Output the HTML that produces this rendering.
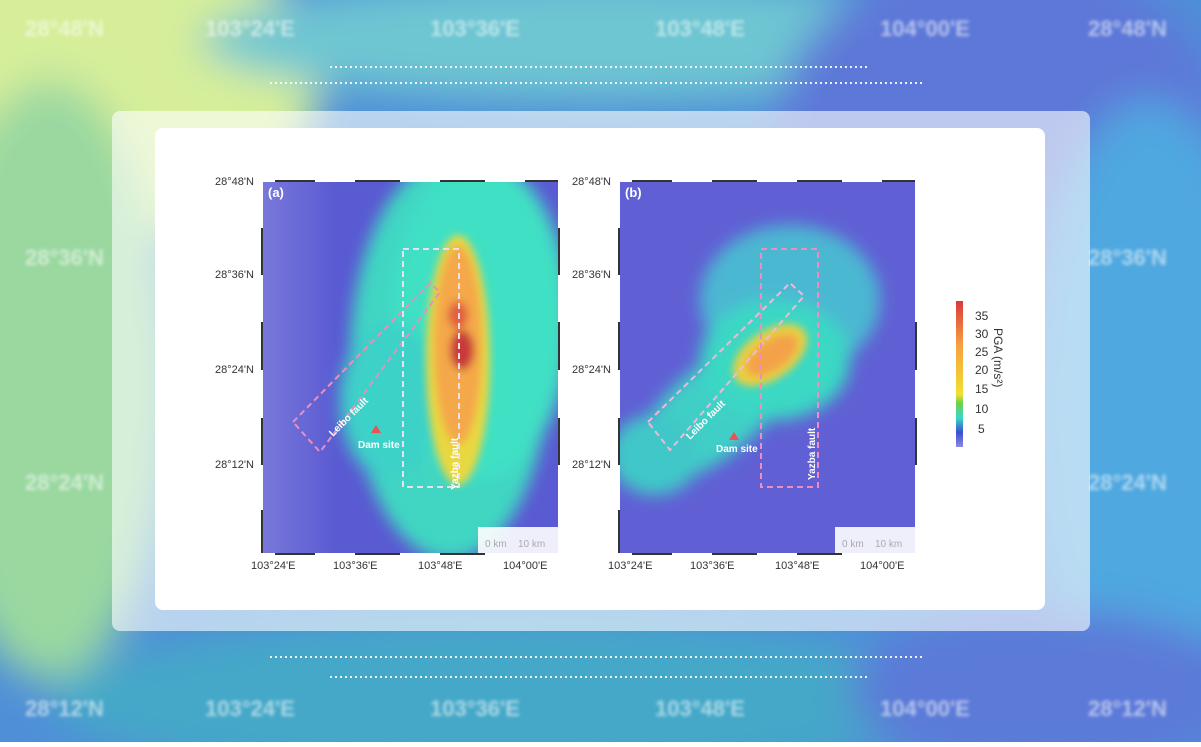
<!DOCTYPE html>
<html><head><meta charset="utf-8"><style>
body{margin:0;width:1201px;height:742px;overflow:hidden;font-family:"Liberation Sans",sans-serif}
</style></head><body>
<svg width="1201" height="742" viewBox="0 0 1201 742" xmlns="http://www.w3.org/2000/svg" font-family="Liberation Sans, sans-serif">
<defs>
<filter id="b20"><feGaussianBlur stdDeviation="20"/></filter>
<filter id="b8"><feGaussianBlur stdDeviation="8"/></filter>
<filter id="b4"><feGaussianBlur stdDeviation="4"/></filter>
<filter id="b2"><feGaussianBlur stdDeviation="1.5"/></filter>
<linearGradient id="cb" x1="0" y1="1" x2="0" y2="0">
<stop offset="0" stop-color="#8a8ae0"/><stop offset="0.1" stop-color="#3a4fd0"/><stop offset="0.2" stop-color="#3ad8c8"/><stop offset="0.3" stop-color="#6bd04a"/><stop offset="0.36" stop-color="#f2e030"/><stop offset="0.7" stop-color="#f5a040"/><stop offset="1" stop-color="#d83a3a"/></linearGradient>
<linearGradient id="pa" x1="0" y1="0" x2="1" y2="0">
<stop offset="0" stop-color="#7878da"/><stop offset="0.25" stop-color="#5a5ad2"/><stop offset="1" stop-color="#5a5ad2"/></linearGradient>
<clipPath id="ca"><rect x="263" y="182" width="295" height="371"/></clipPath>
<clipPath id="cbp"><rect x="620" y="182" width="295" height="371"/></clipPath>
</defs>
<rect width="1201" height="742" fill="#4f8fd8"/>
<g filter="url(#b20)">
<ellipse cx="60" cy="80" rx="260" ry="170" fill="#d6ee9a"/>
<ellipse cx="50" cy="380" rx="120" ry="300" fill="#9ad8a0"/>
<ellipse cx="600" cy="40" rx="400" ry="60" fill="#6ec6d2"/>
<ellipse cx="1000" cy="150" rx="230" ry="200" fill="#5d78d8"/>
<ellipse cx="1150" cy="400" rx="120" ry="300" fill="#4fa8e0"/>
<ellipse cx="500" cy="700" rx="450" ry="80" fill="#45a8c8"/>
<ellipse cx="1050" cy="690" rx="200" ry="80" fill="#5b7ad8"/>
</g>
<g fill="#ffffff" opacity="0.55" font-weight="bold" font-size="22" filter="url(#b2)">
<text x="25" y="36">28°48'N</text><text x="205" y="36">103°24'E</text><text x="430" y="36">103°36'E</text><text x="655" y="36">103°48'E</text><text x="880" y="36">104°00'E</text><text x="1088" y="36">28°48'N</text>
<text x="25" y="265">28°36'N</text><text x="1088" y="265">28°36'N</text>
<text x="25" y="490">28°24'N</text><text x="1088" y="490">28°24'N</text>
<text x="25" y="716">28°12'N</text><text x="205" y="716">103°24'E</text><text x="430" y="716">103°36'E</text><text x="655" y="716">103°48'E</text><text x="880" y="716">104°00'E</text><text x="1088" y="716">28°12'N</text>
</g>
<g stroke="#fff" stroke-width="2" stroke-dasharray="2 3" opacity="0.9">
<line x1="330" y1="67" x2="870" y2="67"/><line x1="270" y1="83" x2="925" y2="83"/>
<line x1="270" y1="657" x2="925" y2="657"/><line x1="330" y1="677" x2="870" y2="677"/>
</g>
<rect x="112" y="111" width="978" height="520" rx="8" fill="#fff" opacity="0.6"/>
<rect x="155" y="128" width="890" height="482" rx="8" fill="#fff"/>

<!-- panel a -->
<g clip-path="url(#ca)">
<rect x="263" y="182" width="295" height="371" fill="url(#pa)"/>
<g filter="url(#b8)">
<ellipse cx="450" cy="360" rx="100" ry="200" fill="#40d6c2"/>
<ellipse cx="480" cy="320" rx="90" ry="160" fill="#3fe0c4"/>
<ellipse cx="390" cy="400" rx="50" ry="80" fill="#3cd2c8"/>
</g>
<g filter="url(#b4)">
<ellipse cx="458" cy="360" rx="32" ry="125" fill="#e8d840"/>
<ellipse cx="458" cy="345" rx="24" ry="100" fill="#f4a848"/>
<ellipse cx="462" cy="350" rx="12" ry="20" fill="#c83a3a"/>
<ellipse cx="458" cy="315" rx="10" ry="14" fill="#e06040"/>
</g>
<text x="268" y="197" fill="#fff" font-size="13" font-weight="bold">(a)</text>
<polygon points="293,422 430,283 440,292 320,452" fill="none" stroke="#f08cb8" stroke-width="2" stroke-dasharray="6 4"/>
<rect x="403" y="249" width="56" height="238" fill="none" stroke="#e8e0f0" stroke-width="2" stroke-dasharray="6 4"/>
<polygon points="376,425 371,433 381,433" fill="#f05050"/>
<text x="358" y="448" fill="#fff" font-size="10" font-weight="bold">Dam site</text>
<text transform="translate(333,437) rotate(-45)" fill="#fff" font-size="10" font-weight="bold">Leibo fault</text>
<text transform="translate(458,490) rotate(-90)" fill="#fff" font-size="10" font-weight="bold">Yazba fault</text>
<rect x="478" y="527" width="80" height="26" fill="#fff" opacity="0.9"/>
<text x="485" y="547" fill="#aaa" font-size="10">0 km</text><text x="518" y="547" fill="#aaa" font-size="10">10 km</text>
</g>
<g stroke="#333" stroke-width="2">
<line x1="275" y1="181" x2="315" y2="181"/><line x1="355" y1="181" x2="400" y2="181"/><line x1="440" y1="181" x2="485" y2="181"/><line x1="525" y1="181" x2="558" y2="181"/>
<line x1="262" y1="228" x2="262" y2="275"/><line x1="262" y1="322" x2="262" y2="370"/><line x1="262" y1="418" x2="262" y2="465"/><line x1="262" y1="510" x2="262" y2="553"/>
<line x1="559" y1="228" x2="559" y2="275"/><line x1="559" y1="322" x2="559" y2="370"/><line x1="559" y1="418" x2="559" y2="465"/>
<line x1="275" y1="554" x2="315" y2="554"/><line x1="355" y1="554" x2="400" y2="554"/><line x1="440" y1="554" x2="485" y2="554"/>
</g>
<g font-size="11" fill="#333">
<text x="215" y="185">28°48'N</text><text x="215" y="278">28°36'N</text><text x="215" y="373">28°24'N</text><text x="215" y="468">28°12'N</text>
<text x="251" y="569">103°24'E</text><text x="333" y="569">103°36'E</text><text x="418" y="569">103°48'E</text><text x="503" y="569">104°00'E</text>
</g>

<!-- panel b -->
<g clip-path="url(#cbp)">
<rect x="620" y="182" width="295" height="371" fill="#6060d4"/>
<g filter="url(#b8)">
<ellipse cx="790" cy="300" rx="90" ry="75" fill="#4cb8d2"/>
<ellipse cx="715" cy="410" rx="100" ry="45" fill="#3fcfc6" transform="rotate(-40 715 410)"/>
<ellipse cx="775" cy="360" rx="75" ry="60" fill="#3ad8c4"/>
<ellipse cx="655" cy="455" rx="45" ry="40" fill="#40c8c8"/>
</g>
<g filter="url(#b4)">
<ellipse cx="770" cy="355" rx="42" ry="24" fill="#e8d040" transform="rotate(-35 770 355)"/>
<ellipse cx="772" cy="355" rx="30" ry="15" fill="#f4a248" transform="rotate(-35 772 355)"/>
</g>
<text x="625" y="197" fill="#fff" font-size="13" font-weight="bold">(b)</text>
<polygon points="648,422 790,283 804,296 670,450" fill="none" stroke="#f0b8d8" stroke-width="2" stroke-dasharray="6 4"/>
<rect x="761" y="249" width="57" height="238" fill="none" stroke="#f08cc0" stroke-width="2" stroke-dasharray="6 4"/>
<polygon points="734,432 729,440 739,440" fill="#f05050"/>
<text x="716" y="452" fill="#fff" font-size="10" font-weight="bold">Dam site</text>
<text transform="translate(690,440) rotate(-45)" fill="#fff" font-size="10" font-weight="bold">Leibo fault</text>
<text transform="translate(815,480) rotate(-90)" fill="#fff" font-size="10" font-weight="bold">Yazba fault</text>
<rect x="835" y="527" width="80" height="26" fill="#fff" opacity="0.9"/>
<text x="842" y="547" fill="#aaa" font-size="10">0 km</text><text x="875" y="547" fill="#aaa" font-size="10">10 km</text>
</g>
<g stroke="#333" stroke-width="2">
<line x1="632" y1="181" x2="672" y2="181"/><line x1="712" y1="181" x2="757" y2="181"/><line x1="797" y1="181" x2="842" y2="181"/><line x1="882" y1="181" x2="915" y2="181"/>
<line x1="619" y1="228" x2="619" y2="275"/><line x1="619" y1="322" x2="619" y2="370"/><line x1="619" y1="418" x2="619" y2="465"/><line x1="619" y1="510" x2="619" y2="553"/>
<line x1="916" y1="322" x2="916" y2="370"/><line x1="916" y1="418" x2="916" y2="465"/>
<line x1="632" y1="554" x2="672" y2="554"/><line x1="712" y1="554" x2="757" y2="554"/><line x1="797" y1="554" x2="842" y2="554"/>
</g>
<g font-size="11" fill="#333">
<text x="572" y="185">28°48'N</text><text x="572" y="278">28°36'N</text><text x="572" y="373">28°24'N</text><text x="572" y="468">28°12'N</text>
<text x="608" y="569">103°24'E</text><text x="690" y="569">103°36'E</text><text x="775" y="569">103°48'E</text><text x="860" y="569">104°00'E</text>
</g>

<!-- colorbar -->
<rect x="956" y="301" width="7" height="146" fill="url(#cb)"/>
<g font-size="12" fill="#333">
<text x="975" y="320">35</text><text x="975" y="338">30</text><text x="975" y="356">25</text><text x="975" y="374">20</text><text x="975" y="393">15</text><text x="975" y="413">10</text><text x="978" y="433">5</text>
</g>
<text transform="translate(994,328) rotate(90)" font-size="12" fill="#333">PGA (m/s²)</text>
</svg>
</body></html>
